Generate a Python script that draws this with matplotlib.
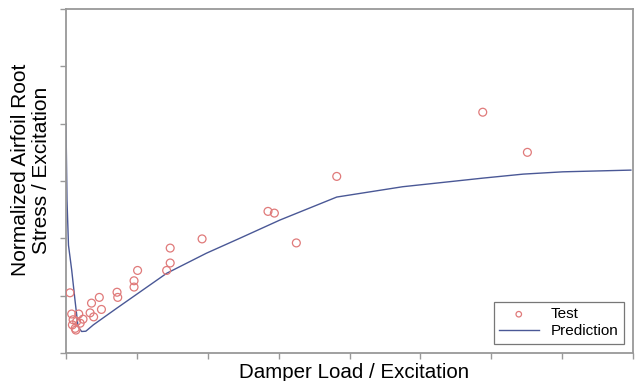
import numpy as np
import matplotlib
matplotlib.use('Agg')
import matplotlib.pyplot as plt

plt.rcParams['font.family'] = ['Liberation Sans', 'DejaVu Sans']

# Test measurements (damper load / excitation vs normalized root stress)
test_x = [0.056, 0.08, 0.18, 0.10, 0.15, 0.09, 0.13, 0.20, 0.24, 0.14,
          0.34, 0.36, 0.47, 0.50, 0.39, 0.72, 0.73, 0.96, 0.96, 1.01,
          1.42, 1.47, 1.47, 1.92, 2.85, 2.94, 3.25, 3.82, 5.88, 6.51]
test_y = [1.05, 0.68, 0.68, 0.58, 0.55, 0.49, 0.43, 0.52, 0.59, 0.40,
          0.70, 0.87, 0.97, 0.76, 0.63, 1.06, 0.97, 1.26, 1.15, 1.44,
          1.44, 1.57, 1.83, 1.99, 2.47, 2.44, 1.92, 3.08, 4.20, 3.50]

# Predicted response curve
pred_x = [0.0, 0.014, 0.035, 0.08, 0.127, 0.17, 0.22, 0.28, 0.385, 0.715,
          1.42, 1.98, 2.45, 3.02, 3.82, 4.75, 5.88, 6.45, 7.01, 7.97]
pred_y = [4.0, 2.67, 1.88, 1.45, 0.92, 0.46, 0.375, 0.38, 0.49, 0.78,
          1.39, 1.74, 2.0, 2.32, 2.72, 2.90, 3.05, 3.12, 3.16, 3.19]

fig = plt.figure(figsize=(6.35, 3.81), dpi=100)
ax = fig.add_axes([66 / 635, 1 - 353 / 381, (633 - 66) / 635, (353 - 9) / 381])

ax.scatter(test_x, test_y, s=32, facecolors='none', edgecolors='#e07a7a',
           linewidths=0.9, label='Test', zorder=3)
ax.plot(pred_x, pred_y, color='#4a5896', linewidth=1.0, label='Prediction')

ax.set_xlim(0, 8)
ax.set_ylim(0, 6)
ax.set_xticks(np.arange(0, 9, 1))
ax.set_yticks(np.arange(0, 7, 1))
ax.tick_params(labelbottom=False, labelleft=False, direction='out',
               length=4, color='#999999', width=1)
for s in ax.spines.values():
    s.set_color('#999999')
    s.set_linewidth(1.3)

ax.set_xlabel('Damper Load / Excitation', fontsize=14.8)
ax.xaxis.set_label_coords(0.508, -0.028)
ax.set_ylabel('Normalized Airfoil Root\nStress / Excitation', fontsize=15,
              linespacing=1.12)
ax.yaxis.set_label_coords(-0.027, 0.532)

leg = ax.legend(loc='lower right', bbox_to_anchor=(0.9975, 0.005), fontsize=11,
                frameon=True, fancybox=False, borderpad=0.35, handlelength=2.6,
                handletextpad=0.8, labelspacing=0.2, markerscale=0.7)
leg.get_frame().set_edgecolor('#555555')
leg.get_frame().set_linewidth(0.9)

fig.savefig('out.png', dpi=100)
